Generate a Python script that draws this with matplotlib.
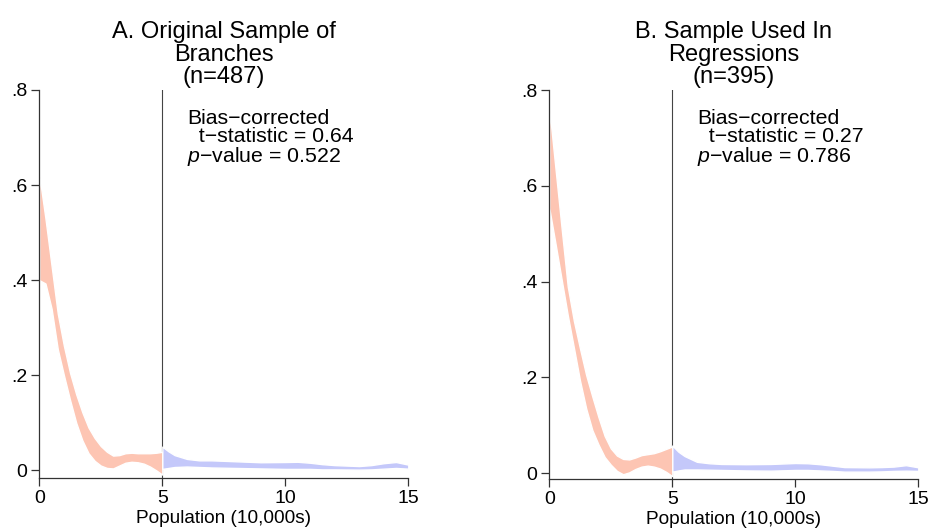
import matplotlib
matplotlib.use("Agg")
import matplotlib.pyplot as plt

plt.rcParams["font.family"] = ["Liberation Sans", "DejaVu Sans"]
plt.rcParams["mathtext.fontset"] = "custom"
plt.rcParams["mathtext.it"] = "Liberation Sans:italic"
plt.rcParams["mathtext.rm"] = "Liberation Sans"

CUTOFF = 5

# density confidence bands below the cutoff (population 0-5)
x_below = [0, 0.25, 0.5, 0.75, 1.0, 1.25, 1.5, 1.75, 2.0, 2.25, 2.5,
           2.75, 3.0, 3.25, 3.5, 3.75, 4.0, 4.25, 4.5, 4.75, 5.0]
a_below_hi = [0.621, 0.53, 0.43, 0.33, 0.262, 0.205, 0.16, 0.122, 0.09, 0.068, 0.051,
              0.039, 0.031, 0.032, 0.036, 0.037, 0.036, 0.036, 0.036, 0.037, 0.039]
a_below_lo = [0.400, 0.393, 0.34, 0.255, 0.20, 0.148, 0.10, 0.063, 0.036, 0.02, 0.01,
              0.005, 0.004, 0.010, 0.016, 0.018, 0.017, 0.014, 0.008, 0.0, -0.009]
b_below_hi = [0.762, 0.637, 0.512, 0.39, 0.318, 0.26, 0.205, 0.16, 0.117, 0.078, 0.052,
              0.037, 0.030, 0.029, 0.033, 0.038, 0.040, 0.042, 0.046, 0.051, 0.056]
b_below_lo = [0.553, 0.48, 0.405, 0.33, 0.262, 0.193, 0.135, 0.09, 0.06, 0.034, 0.018,
              0.005, -0.002, 0.002, 0.009, 0.014, 0.016, 0.014, 0.010, 0.003, -0.006]

# density confidence bands above the cutoff (population 5-15)
x_above = [5, 5.25, 5.5, 6, 6.5, 7, 8, 9, 10, 10.5, 11, 11.5, 12, 13, 13.5, 14, 14.5, 15]
a_above_hi = [0.050, 0.040, 0.032, 0.024, 0.021, 0.021, 0.019, 0.017, 0.0175, 0.018,
              0.016, 0.013, 0.011, 0.009, 0.011, 0.015, 0.0175, 0.012]
a_above_lo = [0.003, 0.005, 0.007, 0.008, 0.007, 0.006, 0.005, 0.004, 0.003, 0.003,
              0.003, 0.002, 0.002, 0.0015, 0.002, 0.0035, 0.005, 0.0035]
b_above_hi = [0.058, 0.045, 0.036, 0.024, 0.021, 0.0195, 0.019, 0.0195, 0.0215, 0.021,
              0.019, 0.016, 0.013, 0.0125, 0.013, 0.014, 0.017, 0.0125]
b_above_lo = [0.0035, 0.006, 0.008, 0.008, 0.0075, 0.007, 0.006, 0.0055, 0.007, 0.007,
              0.006, 0.005, 0.0035, 0.0035, 0.004, 0.005, 0.0055, 0.005]

titles = ["A. Original Sample of\nBranches\n(n=487)",
          "B. Sample Used In\nRegressions\n(n=395)"]
t_stats = ["0.64", "0.27"]
p_values = ["0.522", "0.786"]
x_ticks = [0, 5, 10, 15]
y_ticks = [0, 0.2, 0.4, 0.6, 0.8]
y_tick_labels = ["0", ".2", ".4", ".6", ".8"]

RED = "#fdc5b3"
BLUE = "#c4c8fa"

fig = plt.figure(figsize=(9.3, 5.29), dpi=100)
axes = [
    fig.add_axes([0.04226, 0.0958, 0.39677, 0.7341]),
    fig.add_axes([0.59065, 0.09395, 0.39677, 0.7359]),
]
y_bottoms = [-0.0168, -0.0125]
panels = [
    (a_below_lo, a_below_hi, a_above_lo, a_above_hi),
    (b_below_lo, b_below_hi, b_above_lo, b_above_hi),
]

for i, ax in enumerate(axes):
    lo_b, hi_b, lo_a, hi_a = panels[i]
    ax.axvline(CUTOFF, color="#444444", linewidth=0.8, zorder=1)
    ax.fill_between(x_below, lo_b, hi_b, facecolor=RED, edgecolor="white",
                    linewidth=1.0, zorder=2)
    ax.fill_between(x_above, lo_a, hi_a, facecolor=BLUE, edgecolor="white",
                    linewidth=1.0, zorder=2)

    ax.set_xlim(0, 15)
    ax.set_ylim(y_bottoms[i], 0.8)
    ax.set_xticks(x_ticks)
    ax.set_yticks(y_ticks)
    ax.set_yticklabels(y_tick_labels)
    for side in ("top", "right"):
        ax.spines[side].set_visible(False)
    for side in ("left", "bottom"):
        ax.spines[side].set_color("#333333")
        ax.spines[side].set_linewidth(0.9)
    ax.tick_params(direction="out", length=5.5, width=0.9, color="#333333",
                   labelsize=14, pad=3)
    ax.set_xlabel("Population (10,000s)", fontsize=13.7, labelpad=2)
    ax.set_title(titles[i], fontsize=17, linespacing=1.03, pad=5)

    stats = ("Bias\u2212corrected\n"
             "  t\u2212statistic = " + t_stats[i] + "\n"
             "$p$\u2212value = " + p_values[i])
    ax.text(6, 0.6985, stats, fontsize=15.3, va="center", ha="left",
            linespacing=0.93)

fig.savefig("out.png", dpi=100)
